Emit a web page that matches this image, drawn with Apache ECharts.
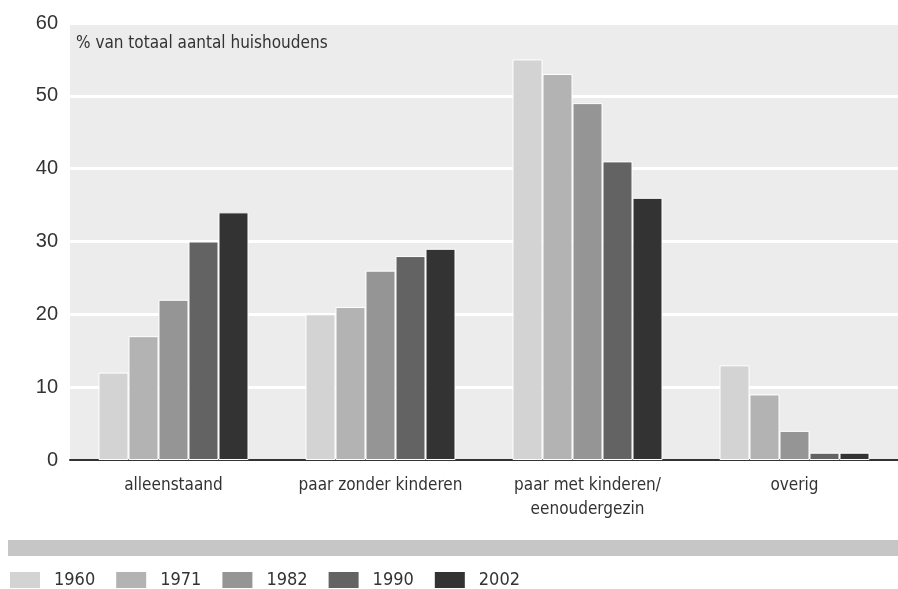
<!DOCTYPE html>
<html>
<head>
<meta charset="utf-8">
<script src="https://cdn.jsdelivr.net/npm/echarts@6/dist/echarts.min.js"></script>
<style>
  html, body { margin: 0; padding: 0; background: #fff; }
  #chart { width: 898px; height: 589px; }
</style>
</head>
<body>
<div id="chart"></div>
<script>
const categories = ['alleenstaand', 'paar zonder kinderen', 'paar met kinderen/\neenoudergezin', 'overig'];
const years = ['1960', '1971', '1982', '1990', '2002'];
const values1960 = [12, 20, 55, 13];
const values1971 = [17, 21, 53, 9];
const values1982 = [22, 26, 49, 4];
const values1990 = [30, 28, 41, 1];
const values2002 = [34, 29, 36, 1];
const yTicks = [0, 10, 20, 30, 40, 50, 60];

const allValues = [values1960, values1971, values1982, values1990, values2002];
const colors = ['#d3d3d3', '#b3b3b3', '#959595', '#636363', '#333333'];
const cond = '"DejaVu Sans Condensed", "Liberation Sans", sans-serif';
const regular = '"Liberation Sans", Arial, sans-serif';

const chart = echarts.init(document.getElementById('chart'));

const option = {
  backgroundColor: '#ffffff',
  animation: false,
  title: {
    text: '% van totaal aantal huishoudens',
    left: 71,
    top: 30,
    textStyle: { fontFamily: cond, fontSize: 17, fontWeight: 'normal', color: '#333' }
  },
  grid: {
    left: 70,
    right: 0,
    top: 23,
    bottom: 129,
    show: true,
    backgroundColor: '#ebeceb',
    borderWidth: 0
  },
  legend: {
    left: 8,
    top: 570,
    padding: 0,
    itemWidth: 32,
    itemHeight: 18,
    itemGap: 19,
    icon: 'rect',
    data: years,
    textStyle: { fontFamily: cond, fontSize: 18, color: '#333', padding: [0, 0, 0, 8] }
  },
  graphic: [
    { type: 'rect', shape: { x: 8, y: 540, width: 890, height: 16 }, style: { fill: '#c6c6c6' } }
  ],
  xAxis: {
    type: 'category',
    data: categories,
    axisTick: { show: false },
    axisLine: { lineStyle: { color: '#333', width: 2 } },
    axisLabel: {
      interval: 0,
      fontFamily: cond,
      fontSize: 17,
      color: '#333',
      margin: 14,
      lineHeight: 24
    }
  },
  yAxis: {
    type: 'value',
    min: yTicks[0],
    max: yTicks[yTicks.length - 1],
    interval: 10,
    axisLine: { show: false },
    axisTick: { show: false },
    axisLabel: { fontFamily: regular, fontSize: 20, color: '#333', margin: 12 },
    splitLine: { lineStyle: { color: '#ffffff', width: 3 } }
  },
  series: years.map((y, i) => ({
    name: y,
    type: 'bar',
    data: allValues[i],
    barWidth: 30,
    barGap: '0%',
    itemStyle: { color: colors[i], borderColor: '#ffffff', borderWidth: 1 }
  }))
};

chart.setOption(option);
</script>
</body>
</html>
